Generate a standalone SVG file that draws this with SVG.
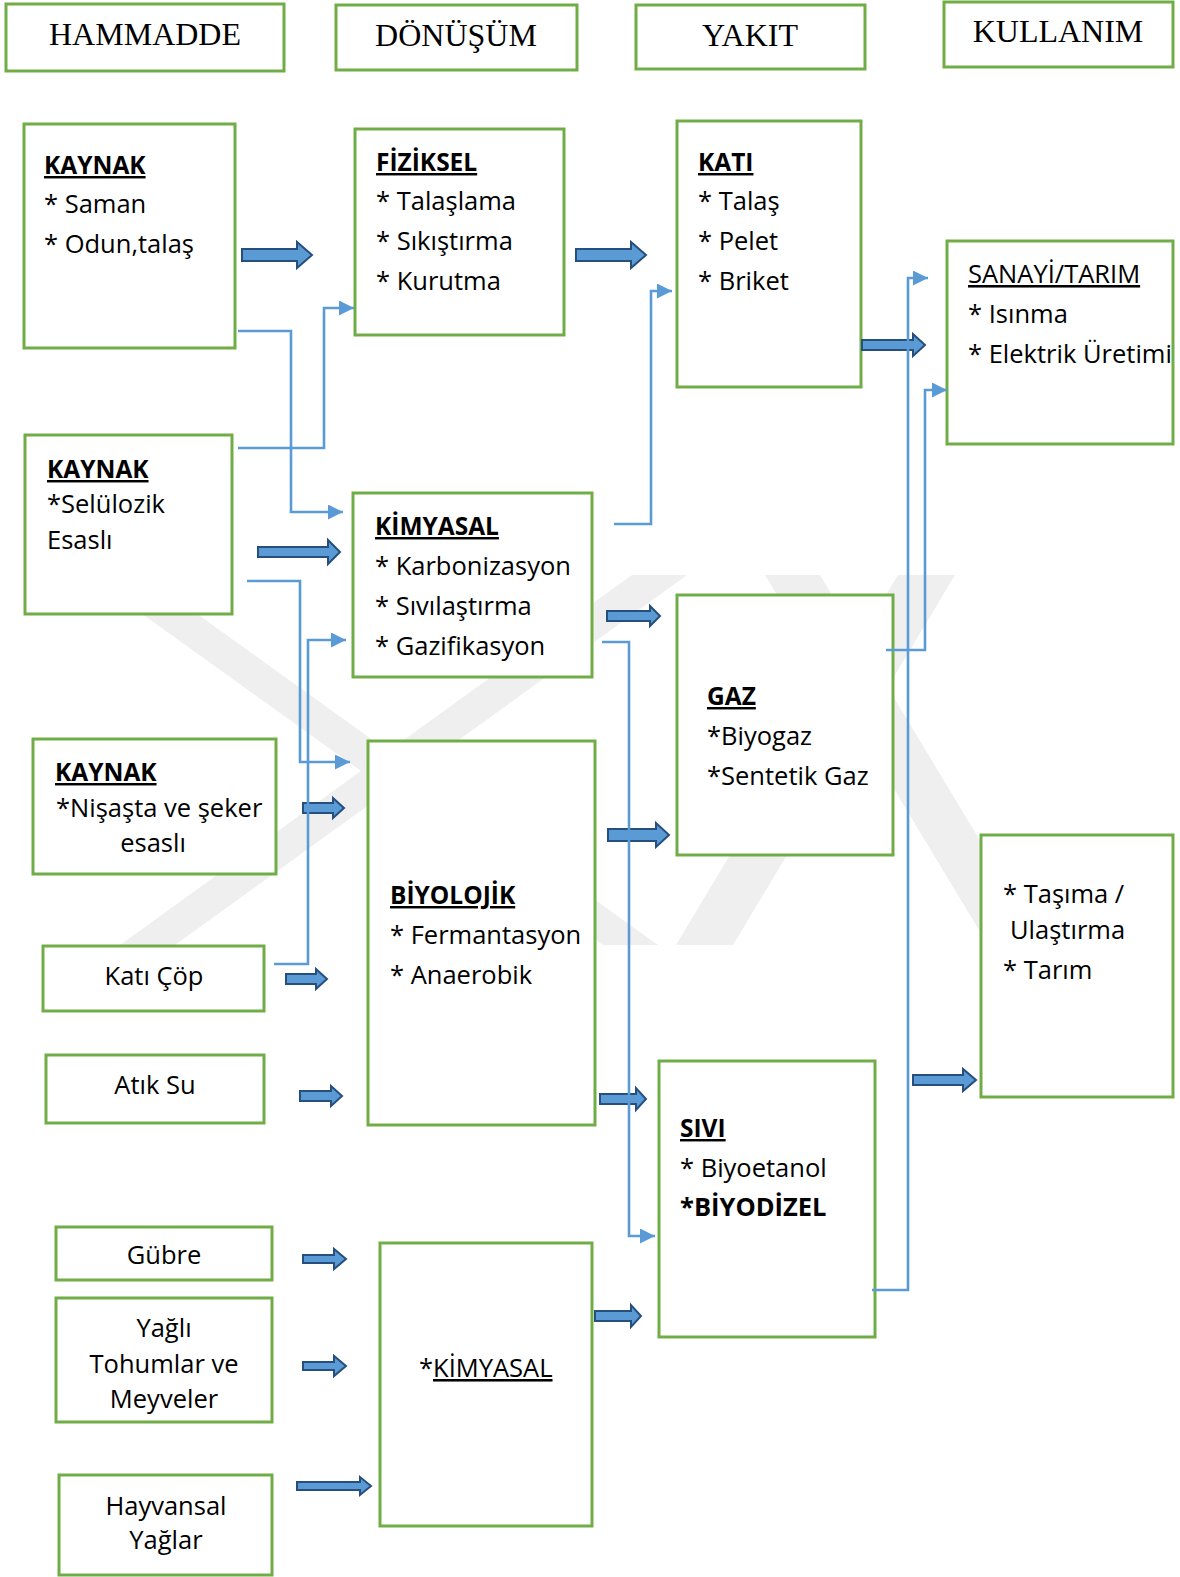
<svg xmlns="http://www.w3.org/2000/svg" width="1180" height="1577" viewBox="0 0 1180 1577">
<style>
.box{fill:#fff;stroke:#70ad47;stroke-width:3}
.ba{fill:#5b9bd5;stroke:#264f7d;stroke-width:2;stroke-linejoin:miter}
.ln{fill:none;stroke:#5b9bd5;stroke-width:2.6}
.wm{fill:#efefef}
.t{font-family:"Open Sans","Liberation Sans",sans-serif;font-size:25.5px;fill:#000}
.c{text-anchor:middle}
.b{font-weight:bold;text-decoration:underline;font-size:24.5px}
.u{text-decoration:underline}
.h{font-family:"Liberation Serif","Times New Roman",serif;font-size:32px;fill:#000;text-anchor:middle}
</style>
<defs>
<marker id="ah" markerUnits="userSpaceOnUse" markerWidth="16" markerHeight="15" refX="15" refY="7.5" orient="auto">
<path d="M0,0 L15,7.5 L0,15 Z" fill="#5b9bd5"/>
</marker>
</defs>
<rect width="1180" height="1577" fill="#fff"/>
<g id="watermark">
<polygon class="wm" points="88,575 143,575 658,945 603,945"/>
<polygon class="wm" points="632,575 687,575 175,945 120,945"/>
<polygon class="wm" points="765,575 820,575 1040,940 985,940"/>
<polygon class="wm" points="898,575 955,575 733,945 676,945"/>
</g>
<g id="n-hammadde"><rect class="box" x="6" y="4" width="278" height="67"/><text class="h" x="145" y="45">HAMMADDE</text></g>
<g id="n-donusum"><rect class="box" x="336" y="5" width="241" height="65"/><text class="h" x="456" y="46">DÖNÜŞÜM</text></g>
<g id="n-yakit"><rect class="box" x="636" y="5" width="229" height="64"/><text class="h" x="750" y="46">YAKIT</text></g>
<g id="n-kullanim"><rect class="box" x="944" y="2" width="229" height="65"/><text class="h" x="1058" y="42">KULLANIM</text></g>

<g id="n-kaynak1"><rect class="box" x="24" y="124" width="211" height="224"/>
<text class="t b" x="44" y="174">KAYNAK</text><text class="t" x="44" y="213">* Saman</text><text class="t" x="44" y="253">* Odun,talaş</text></g>
<g id="n-fiziksel"><rect class="box" x="355" y="129" width="209" height="206"/>
<text class="t b" x="376" y="171">FİZİKSEL</text><text class="t" x="376" y="210">* Talaşlama</text><text class="t" x="376" y="250">* Sıkıştırma</text><text class="t" x="376" y="290">* Kurutma</text></g>
<g id="n-kati"><rect class="box" x="677" y="121" width="184" height="266"/>
<text class="t b" x="698" y="171">KATI</text><text class="t" x="698" y="210">* Talaş</text><text class="t" x="698" y="250">* Pelet</text><text class="t" x="698" y="290">* Briket</text></g>
<g id="n-sanayi"><rect class="box" x="947" y="241" width="226" height="203"/>
<text class="t u" x="968" y="283">SANAYİ/TARIM</text><text class="t" x="968" y="323">* Isınma</text><text class="t" x="968" y="363">* Elektrik Üretimi</text></g>
<g id="n-kaynak2"><rect class="box" x="25" y="435" width="207" height="179"/>
<text class="t b" x="47" y="478">KAYNAK</text><text class="t" x="47" y="513">*Selülozik</text><text class="t" x="47" y="549">Esaslı</text></g>
<g id="n-kimyasal"><rect class="box" x="353" y="493" width="239" height="184"/>
<text class="t b" x="375" y="535">KİMYASAL</text><text class="t" x="375" y="575">* Karbonizasyon</text><text class="t" x="375" y="615">* Sıvılaştırma</text><text class="t" x="375" y="655">* Gazifikasyon</text></g>
<g id="n-kaynak3"><rect class="box" x="33" y="739" width="243" height="135"/>
<text class="t b" x="55" y="781">KAYNAK</text><text class="t" x="56" y="817">*Nişaşta ve şeker</text><text class="t c" x="153" y="852">esaslı</text></g>
<g id="n-biyolojik"><rect class="box" x="368" y="741" width="227" height="384"/>
<text class="t b" x="390" y="904">BİYOLOJİK</text><text class="t" x="390" y="944">* Fermantasyon</text><text class="t" x="390" y="984">* Anaerobik</text></g>
<g id="n-gaz"><rect class="box" x="677" y="595" width="216" height="260"/>
<text class="t b" x="707" y="705">GAZ</text><text class="t" x="707" y="745">*Biyogaz</text><text class="t" x="707" y="785">*Sentetik Gaz</text></g>
<g id="n-katicop"><rect class="box" x="43" y="946" width="221" height="65"/><text class="t c" x="154" y="985">Katı Çöp</text></g>
<g id="n-atiksu"><rect class="box" x="46" y="1055" width="218" height="68"/><text class="t c" x="155" y="1094">Atık Su</text></g>
<g id="n-tasima"><rect class="box" x="981" y="835" width="192" height="262"/>
<text class="t" x="1003" y="903">* Taşıma /</text><text class="t" x="1010" y="939">Ulaştırma</text><text class="t" x="1003" y="979">* Tarım</text></g>
<g id="n-sivi"><rect class="box" x="659" y="1061" width="216" height="276"/>
<text class="t b" x="680" y="1137">SIVI</text><text class="t" x="680" y="1177">* Biyoetanol</text><text class="t" x="680" y="1216" font-weight="bold" font-size="24.5">*BİYODİZEL</text></g>
<g id="n-gubre"><rect class="box" x="56" y="1227" width="216" height="53"/><text class="t c" x="164" y="1264">Gübre</text></g>
<g id="n-yagli"><rect class="box" x="56" y="1298" width="216" height="124"/>
<text class="t c" x="164" y="1337">Yağlı</text><text class="t c" x="164" y="1373">Tohumlar ve</text><text class="t c" x="164" y="1408">Meyveler</text></g>
<g id="n-kimyasal2"><rect class="box" x="380" y="1243" width="212" height="283"/>
<text class="t" x="419" y="1377">*<tspan class="u">KİMYASAL</tspan></text></g>
<g id="n-hayvansal"><rect class="box" x="59" y="1475" width="213" height="100"/>
<text class="t c" x="166" y="1515">Hayvansal</text><text class="t c" x="166" y="1549">Yağlar</text></g>

<g id="block-arrows">
<path class="ba" d="M242,249 H297 V242 L312,255 L297,268 V261 H242 Z"/>
<path class="ba" d="M576,249 H631 V242 L646,255 L631,268 V261 H576 Z"/>
<path class="ba" d="M862,340 H913 V334 L925,345 L913,356 V350 H862 Z"/>
<path class="ba" d="M258,547 H328 V540 L340,552 L328,564 V557 H258 Z"/>
<path class="ba" d="M607,611 H650 V606 L660,616 L650,626 V621 H607 Z"/>
<path class="ba" d="M303,803 H333 V798 L344,808 L333,818 V813 H303 Z"/>
<path class="ba" d="M608,829 H656 V823 L669,835 L656,847 V841 H608 Z"/>
<path class="ba" d="M286,974 H316 V969 L327,979 L316,989 V984 H286 Z"/>
<path class="ba" d="M300,1091 H331 V1086 L342,1096 L331,1106 V1101 H300 Z"/>
<path class="ba" d="M600,1094 H636 V1088 L646,1099 L636,1110 V1104 H600 Z"/>
<path class="ba" d="M913,1075 H963 V1069 L976,1080 L963,1091 V1085 H913 Z"/>
<path class="ba" d="M303,1255 H334 V1249 L346,1259 L334,1269 V1263 H303 Z"/>
<path class="ba" d="M595,1311 H631 V1305 L641,1316 L631,1327 V1321 H595 Z"/>
<path class="ba" d="M303,1362 H334 V1356 L346,1366 L334,1376 V1370 H303 Z"/>
<path class="ba" d="M297,1482 H360 V1477 L371,1486 L360,1495 V1490 H297 Z"/>
</g>

<g id="connectors">
<path class="ln" marker-end="url(#ah)" d="M238,331 H291 V512 H343"/>
<path class="ln" marker-end="url(#ah)" d="M238,448 H324 V308 H354"/>
<path class="ln" marker-end="url(#ah)" d="M614,524 H651 V291 H672"/>
<path class="ln" marker-end="url(#ah)" d="M247,581 H300 V762 H350"/>
<path class="ln" marker-end="url(#ah)" d="M274,964 H308 V640 H346"/>
<path class="ln" marker-end="url(#ah)" d="M602,642 H629 V1236 H655"/>
<path class="ln" marker-end="url(#ah)" d="M872,1290 H908 V278 H928"/>
<path class="ln" marker-end="url(#ah)" d="M886,650 H925 V390 H947"/>
</g>
</svg>
